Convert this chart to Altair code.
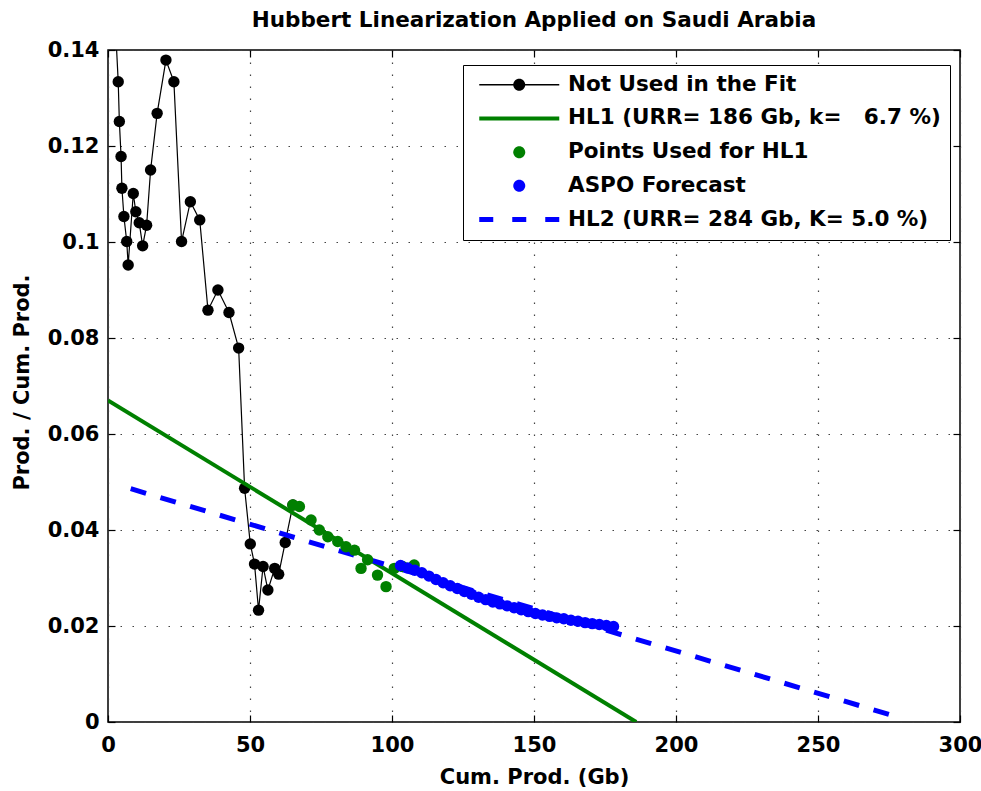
import altair as alt
import pandas as pd

FONT = "DejaVu Sans"

# ---------------- data ----------------
not_used_x = [1.5, 3.6, 4.0, 4.6, 4.9, 5.6, 6.6, 7.1, 8.9, 9.8, 11.0, 12.2, 13.6, 15.0, 17.3,
              20.4, 23.2, 25.9, 29.0, 32.3, 35.2, 38.7, 42.6, 46.0, 48.1, 50.1, 51.6, 53.0,
              54.6, 56.3, 58.7, 60.1, 62.4, 65.1]
not_used_y = [0.158, 0.1334, 0.1251, 0.1178, 0.1112, 0.1053, 0.1001, 0.0952, 0.1101, 0.1063,
              0.1040, 0.0992, 0.1035, 0.1150, 0.1268, 0.1379, 0.1334, 0.1001, 0.1084, 0.1046,
              0.0858, 0.0900, 0.0853, 0.0779, 0.0487, 0.0371, 0.0329, 0.0233, 0.0324, 0.0275,
              0.0320, 0.0308, 0.0374, 0.0452]

used_x = [65.1, 67.4, 71.5, 74.4, 77.4, 80.9, 83.8, 86.8, 89.1, 91.4, 94.9, 97.9, 100.8, 103.7, 107.8]
used_y = [0.0452, 0.0449, 0.0421, 0.0400, 0.0386, 0.0376, 0.0365, 0.0358, 0.0320, 0.0338,
          0.0306, 0.0282, 0.0320, 0.0324, 0.0327]

aspo_x = [103.0, 105.5, 108.0, 110.5, 113.0, 115.5, 118.0, 120.5, 123.0, 125.5, 128.0, 130.5,
          133.0, 135.5, 138.0, 140.5, 143.0, 145.5, 148.0, 150.5, 153.0, 155.5, 158.0, 160.5,
          163.0, 165.5, 168.0, 170.5, 173.0, 175.5, 178.0]
aspo_y = [0.0326, 0.0321, 0.0316, 0.0311, 0.0304, 0.0297, 0.0290, 0.0284, 0.0278, 0.0272,
          0.0266, 0.0260, 0.0255, 0.0250, 0.0246, 0.0242, 0.0238, 0.0234, 0.0230, 0.0226,
          0.0223, 0.0220, 0.0217, 0.0215, 0.0212, 0.0210, 0.0207, 0.0205, 0.0203, 0.0201, 0.0199]

hl1_x = [0.0, 186.0]
hl1_y = [0.067, 0.0]
hl2_x = [8.0, 278.0]
hl2_y = [0.0486, 0.00106]

x_ticks = [0, 50, 100, 150, 200, 250, 300]
y_ticks = [0, 0.02, 0.04, 0.06, 0.08, 0.1, 0.12, 0.14]

series_names = [
    "Not Used in the Fit",
    "HL1 (URR= 186 Gb, k=\u00a0\u00a0\u00a06.7 %)",
    "Points Used for HL1",
    "ASPO Forecast",
    "HL2 (URR= 284 Gb, K= 5.0 %)",
]
series_colors = ["#000000", "#008000", "#008000", "#0000ff", "#0000ff"]

# legend symbol shapes (unit = 5 px with symbolSize 100), drawn to the right of the anchor
DOT = "M6.1,0A1.2,1.2,0,1,1,8.5,0A1.2,1.2,0,1,1,6.1,0Z"
series_shapes = [
    "M-0.7,-0.15H6.3V0.15H-0.7Z M8.3,-0.15H15.3V0.15H8.3Z " + DOT,
    "M-0.7,-0.4H15.3V0.4H-0.7Z",
    DOT,
    DOT,
    "M-0.7,-0.5H2.1V0.5H-0.7Z M5.9,-0.5H8.7V0.5H5.9Z M12.5,-0.5H15.3V0.5H12.5Z",
]

black_df = pd.DataFrame({"x": not_used_x, "y": not_used_y})
green_df = pd.DataFrame({"x": used_x, "y": used_y})
blue_df = pd.DataFrame({"x": aspo_x, "y": aspo_y})
hl1_df = pd.DataFrame({"x": hl1_x, "y": hl1_y})
hl2_df = pd.DataFrame({"x": hl2_x, "y": hl2_y})
legend_df = pd.DataFrame({"series": series_names})

# ---------------- scales / axes ----------------
xs = alt.Scale(domain=[0, 300], nice=False, zero=False)
ys = alt.Scale(domain=[0, 0.14], nice=False, zero=False)

GRID = dict(grid=True, gridDash=[1.5, 10.5], gridColor="#444", gridWidth=1.2, gridOpacity=1)
LAB = dict(labelFont=FONT, labelFontSize=21, labelFontWeight="bold", labelColor="black",
           labelFlush=False, labelOverlap=False)
TIT = dict(titleFont=FONT, titleFontSize=21, titleFontWeight="bold", titleColor="black")

main_x_axis = alt.Axis(values=x_ticks, format="d", domain=False, ticks=False, labelPadding=12,
                       titleX=426, titleY=55, titleBaseline="middle", titleAlign="center",
                       **GRID, **LAB, **TIT)
main_y_axis = alt.Axis(values=y_ticks, format=".2~f", domain=False, ticks=False, labelPadding=9,
                       titleX=-86, titleY=332, titleAngle=270, titleAlign="center",
                       titleBaseline="middle", **GRID, **LAB, **TIT)


def tick_axis(orient, vals):
    return alt.Axis(orient=orient, offset=-7, values=vals, labels=False, domain=False,
                    grid=False, ticks=True, tickSize=7, tickColor="black", tickWidth=1.2)


X = lambda axis: alt.X("x:Q", scale=xs, axis=axis, title=None)
Y = lambda axis: alt.Y("y:Q", scale=ys, axis=axis, title=None)

black_line = alt.Chart(black_df).mark_line(color="black", strokeWidth=1.2, clip=True).encode(
    x=alt.X("x:Q", scale=xs, axis=main_x_axis, title="Cum. Prod. (Gb)"),
    y=alt.Y("y:Q", scale=ys, axis=main_y_axis, title="Prod. / Cum. Prod."),
    order=alt.Order("x:Q"),
)
black_pts = alt.Chart(black_df).mark_point(filled=True, color="black", size=130, opacity=1,
                                           clip=True).encode(
    x=X(tick_axis("bottom", x_ticks)), y=Y(tick_axis("left", y_ticks))
)
hl1_line = alt.Chart(hl1_df).mark_line(color="#008000", strokeWidth=4, clip=True).encode(
    x=X(tick_axis("top", x_ticks)), y=Y(tick_axis("right", y_ticks))
)
hl2_line = alt.Chart(hl2_df).mark_line(color="#0000ff", strokeWidth=5, strokeDash=[16, 15],
                                       clip=True).encode(x=X(None), y=Y(None))
green_pts = alt.Chart(green_df).mark_point(filled=True, color="#008000", size=130, opacity=1,
                                           clip=True).encode(x=X(None), y=Y(None))
blue_pts = alt.Chart(blue_df).mark_point(filled=True, color="#0000ff", size=130, opacity=1,
                                         clip=True).encode(x=X(None), y=Y(None))

legend = alt.Legend(orient="none", legendX=355, legendY=15, title=None, labelFont=FONT,
                    labelFontSize=21.5, labelFontWeight="bold", labelColor="black", labelLimit=0,
                    symbolSize=100, symbolStrokeWidth=0, symbolOpacity=1, labelOffset=74.5,
                    padding=9, rowPadding=10.7, strokeColor="black", fillColor="white",
                    direction="vertical")
legend_layer = alt.Chart(legend_df).mark_point(filled=True, size=100, strokeWidth=0, opacity=1).encode(
    color=alt.Color("series:N", scale=alt.Scale(domain=series_names, range=series_colors),
                    legend=legend, sort=series_names),
    shape=alt.Shape("series:N", scale=alt.Scale(domain=series_names, range=series_shapes),
                    legend=legend, sort=series_names),
).transform_filter("false")

chart = alt.layer(
    black_line, black_pts, hl1_line, hl2_line, green_pts, blue_pts, legend_layer
).resolve_axis(x="independent", y="independent").properties(
    width=852, height=672,
    autosize=alt.AutoSizeParams(type="none"),
    padding={"left": 108, "top": 50, "right": 21, "bottom": 69},
    background="white",
    title=alt.TitleParams("Hubbert Linearization Applied on Saudi Arabia", font=FONT,
                          fontSize=21.5, fontWeight="bold", color="black", anchor="middle",
                          offset=8),
).configure_view(stroke="black", strokeWidth=1.5)

chart.save("out.html", embed_options={"renderer": "svg", "actions": False})
